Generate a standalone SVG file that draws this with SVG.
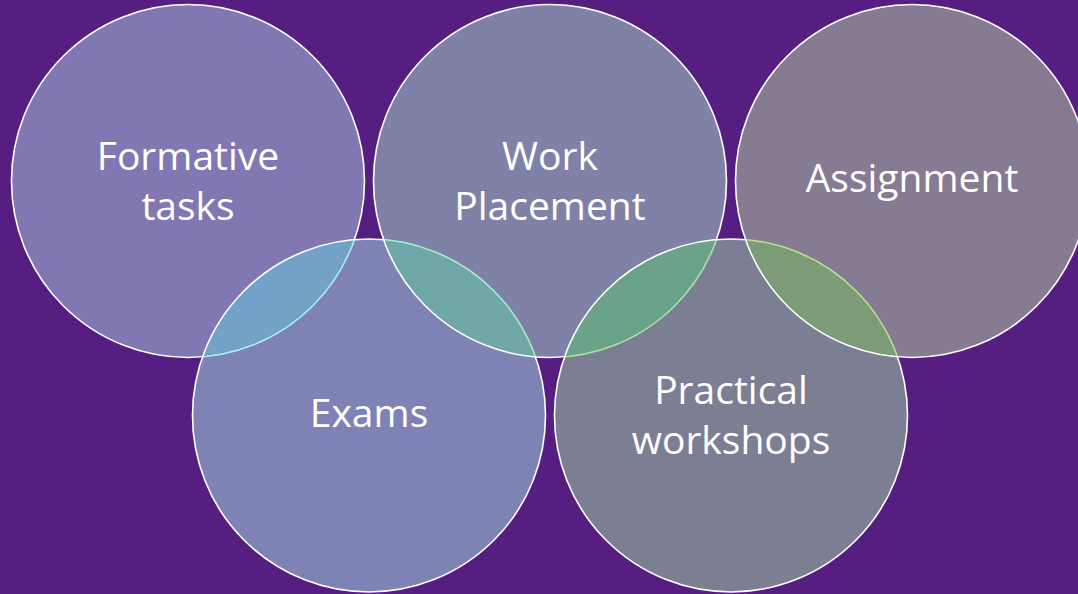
<svg xmlns="http://www.w3.org/2000/svg" width="1078" height="594" viewBox="0 0 1078 594">
  <style>
    .lbl { font-family: "Open Sans", "Noto Sans", sans-serif; font-size: 39px; fill: #ffffff; text-anchor: middle; }
    .edge { fill: none; stroke: #ffffff; stroke-width: 1.6; }
    .tint { fill: none; stroke-width: 1.6; }
  </style>
  <defs>
    <clipPath id="cF"><circle cx="188" cy="181" r="176.5"/></clipPath>
    <clipPath id="cE"><circle cx="369" cy="415.5" r="176.5"/></clipPath>
    <clipPath id="cW"><circle cx="550" cy="181" r="176.5"/></clipPath>
    <clipPath id="cP"><circle cx="731" cy="415.5" r="176.5"/></clipPath>
    <clipPath id="cA"><circle cx="912" cy="181" r="176.5"/></clipPath>
  </defs>
  <rect width="1078" height="594" fill="#551e80"/>

  <g id="node-formative">
    <circle cx="188" cy="181" r="176.5" fill="#8177b3"/>
    <circle class="edge" cx="188" cy="181" r="176.5"/>
    <text class="lbl" x="188" y="170">Formative</text>
    <text class="lbl" x="188" y="220">tasks</text>
  </g>

  <g id="node-exams">
    <circle cx="369" cy="415.5" r="176.5" fill="#7f82b4"/>
    <circle cx="369" cy="415.5" r="176.5" fill="#72a2c5" clip-path="url(#cF)"/>
    <circle class="tint" cx="188" cy="181" r="176.5" stroke="#a8eef0" clip-path="url(#cE)"/>
    <circle class="edge" cx="369" cy="415.5" r="176.5"/>
    <text class="lbl" x="369" y="427">Exams</text>
  </g>

  <g id="node-work-placement">
    <circle cx="550" cy="181" r="176.5" fill="#7f82a6"/>
    <circle cx="550" cy="181" r="176.5" fill="#70a8aa" clip-path="url(#cE)"/>
    <circle class="tint" cx="369" cy="415.5" r="176.5" stroke="#a6eccc" clip-path="url(#cW)"/>
    <circle class="edge" cx="550" cy="181" r="176.5"/>
    <text class="lbl" x="550" y="170">Work</text>
    <text class="lbl" x="550" y="220">Placement</text>
  </g>

  <g id="node-practical">
    <circle cx="731" cy="415.5" r="176.5" fill="#7c7e93"/>
    <circle cx="731" cy="415.5" r="176.5" fill="#6aa38a" clip-path="url(#cW)"/>
    <circle class="tint" cx="550" cy="181" r="176.5" stroke="#a6e3a2" clip-path="url(#cP)"/>
    <circle class="edge" cx="731" cy="415.5" r="176.5"/>
    <text class="lbl" x="731" y="404">Practical</text>
    <text class="lbl" x="731" y="454">workshops</text>
  </g>

  <g id="node-assignment">
    <circle cx="912" cy="181" r="176.5" fill="#877a93"/>
    <circle cx="912" cy="181" r="176.5" fill="#7c9c78" clip-path="url(#cP)"/>
    <circle class="tint" cx="731" cy="415.5" r="176.5" stroke="#b8e090" clip-path="url(#cA)"/>
    <circle class="edge" cx="912" cy="181" r="176.5"/>
    <text class="lbl" x="912" y="192">Assignment</text>
  </g>
</svg>
